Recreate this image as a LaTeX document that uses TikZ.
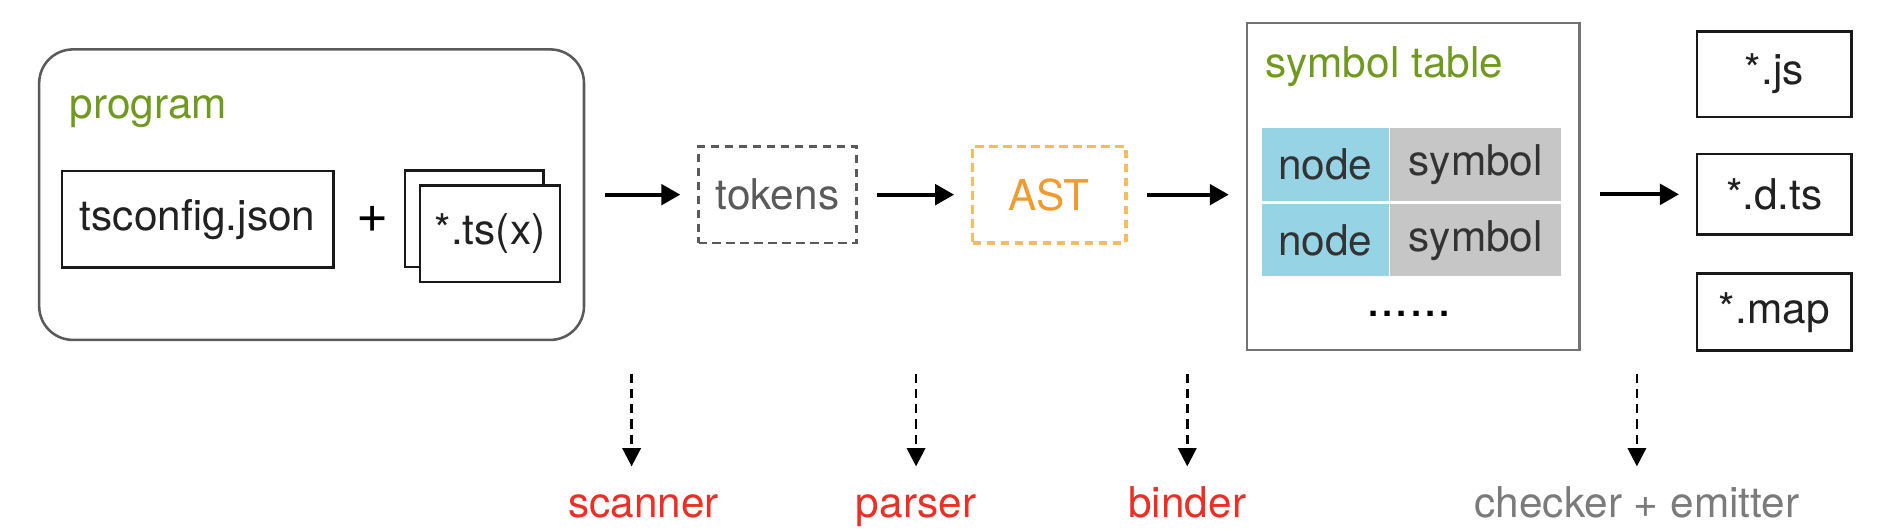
\documentclass[tikz,border=0pt]{standalone}
\usepackage{fontspec}
\setmainfont{TeX Gyre Heros}
\usepackage{tikz}
\usetikzlibrary{arrows.meta,positioning}
\definecolor{labelgreen}{HTML}{6F9A1F}
\definecolor{phasered}{HTML}{EE2E24}
\definecolor{phasegray}{HTML}{7B7B7B}
\definecolor{astorange}{HTML}{F29A2E}
\definecolor{astborder}{HTML}{F7BC5E}
\definecolor{cellblue}{HTML}{95D3E5}
\definecolor{cellgray}{HTML}{C6C6C6}
\definecolor{framegray}{HTML}{5A5A5A}
\tikzset
{
    filebox/.style  = {rectangle, draw=black!90, line width=0.6pt, fill=white, inner sep=0pt, text=black!87, minimum width=#1},
    stagebox/.style = {rectangle, dashed, dash pattern=on 2pt off 1.3pt, line width=0.6pt, inner sep=0pt, minimum width=#1, minimum height=0.80cm},
    tablecell/.style = {rectangle, inner sep=0pt, minimum height=0.60cm, text=black!80},
    caption/.style  = {anchor=base west, inner sep=0pt, text=labelgreen},
    phase/.style    = {anchor=base, inner sep=0pt, text height=0.75em, text depth=0.25em, text=phasered},
    flow/.style     = {-{Triangle[length=4.5pt,width=4.8pt]}, line width=1pt, shorten <=0.16cm, shorten >=0.14cm},
    hint/.style     = {-{Triangle[length=4.3pt,width=4.3pt]}, line width=0.6pt, dash pattern=on 2.2pt off 1.4pt, shorten >=0.15cm}
}

\begin{document}
\begin{tikzpicture}
    \useasboundingbox (0,0) rectangle (15.68,-4.40);

    % program
    \node [rectangle, draw=framegray, line width=0.6pt, rounded corners=0.28cm, minimum width=4.52cm, minimum height=2.41cm] (prog) at (2.585,-1.615) {};
    \node [caption] (proglabel) at (0.57,-0.98) {program};
    \node [filebox=2.25cm, minimum height=0.80cm] (tsconfig) at (1.64,-1.82) {tsconfig.json};
    \node [font=\fontsize{13}{15}\selectfont] (plus) at (3.09,-1.82) {+};
    \node [filebox=1.15cm, minimum height=0.80cm] (tsback) at (3.935,-1.815) {};
    \node [filebox=1.165cm, minimum height=0.80cm] (tsfront) at (4.065,-1.94) {*.ts(x)};

    % tokens, AST
    \node [stagebox=1.31cm, draw=framegray, text=framegray] (tokens) at (6.45,-1.615) {tokens};
    \node [stagebox=1.27cm, draw=astborder, line width=0.8pt, text=astorange] (ast) at (8.705,-1.615) {AST};

    % symbol table
    \node [rectangle, draw=black!55, line width=0.6pt, minimum width=2.76cm, minimum height=2.71cm] (symtab) at (11.725,-1.547) {};
    \node [caption] (symlabel) at (10.49,-0.64) {symbol table};
    \node [tablecell, fill=cellblue, minimum width=1.05cm] (node1) at (10.995,-1.365) {node};
    \node [tablecell, fill=cellgray, minimum width=1.42cm, right=0pt of node1] (sym1) {symbol};
    \node [tablecell, fill=cellblue, minimum width=1.05cm, below=0.4pt of node1] (node2) {node};
    \node [tablecell, fill=cellgray, minimum width=1.42cm, right=0pt of node2] (sym2) {symbol};
    \node [anchor=base, inner sep=0pt, font=\fontsize{12}{14}\selectfont] (more) at (11.69,-2.63) {......};

    % output files
    \node [filebox=1.28cm, minimum height=0.71cm] (js) at (14.72,-0.615) {*.js};
    \node [filebox=1.28cm, minimum height=0.67cm] (dts) at (14.72,-1.6125) {*.d.ts};
    \node [filebox=1.28cm, minimum height=0.64cm] (map) at (14.72,-2.59) {*.map};

    \draw [flow] (prog) -- (tokens);
    \draw [flow] (tokens) -- (ast);
    \draw [flow] (ast) -- (ast -| symtab.west);
    \draw [flow] (symtab.east |- dts) -- (dts);

    % phases
    \node [phase] (scanner) at (5.34,-4.29) {scanner};
    \node [phase] (parser) at (7.60,-4.29) {parser};
    \node [phase] (binder) at (9.85,-4.29) {binder};
    \node [phase, text=phasegray] (emitter) at (13.58,-4.29) {checker + emitter};

    \coordinate (scantop) at (5.24,-3.10);
    \coordinate (parsetop) at (7.60,-3.10);
    \coordinate (bindtop) at (9.85,-3.10);
    \coordinate (emittop) at (13.58,-3.10);
    \draw [hint] (scantop) -- (scantop |- scanner.north);
    \draw [hint] (parsetop) -- (parser.north);
    \draw [hint] (bindtop) -- (binder.north);
    \draw [hint] (emittop) -- (emitter.north);
\end{tikzpicture}
\end{document}
